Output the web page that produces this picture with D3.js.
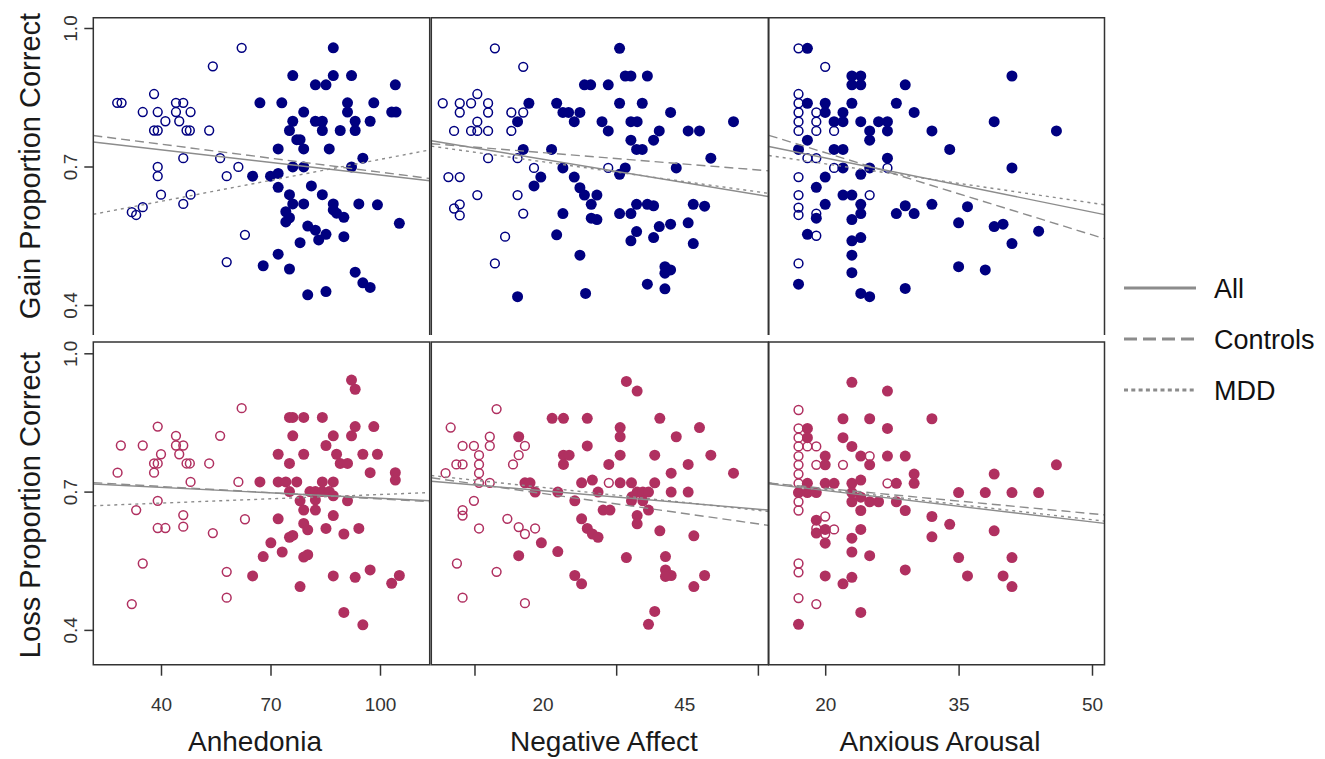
<!DOCTYPE html>
<html>
<head>
<meta charset="utf-8">
<script src="https://cdn.jsdelivr.net/npm/d3@7"></script>
<style>
  body { margin: 0; background: #fff; }
  svg { display: block; }
  text { font-family: "Liberation Sans", Arial, sans-serif; }
</style>
</head>
<body>
<svg id="chart" width="1325" height="759"></svg>
<script>
// ---- Data: [score, proportion correct] per participant ----
const gainAnhCtrl = [[62.1,0.957],[54.2,0.917],[38.1,0.857],[28.0,0.838],[29.2,0.838],[44.1,0.838],[46.1,0.838],[35.0,0.818],[39.1,0.818],[44.1,0.818],[48.1,0.818],[41.2,0.798],[45.0,0.798],[38.1,0.778],[39.1,0.778],[47.0,0.778],[47.9,0.778],[53.2,0.778],[46.1,0.718],[56.2,0.718],[39.1,0.699],[61.2,0.699],[39.1,0.679],[58.0,0.679],[40.0,0.639],[48.1,0.639],[46.1,0.619],[35.0,0.612],[32.0,0.601],[33.2,0.595],[63.0,0.552],[58.0,0.493]];
const gainAnhMdd = [[87.2,0.957],[76.1,0.897],[87.2,0.897],[92.2,0.897],[82.3,0.877],[85.2,0.877],[104.2,0.877],[67.1,0.838],[73.1,0.838],[91.1,0.838],[98.3,0.838],[79.1,0.818],[91.1,0.818],[103.2,0.818],[104.4,0.818],[76.1,0.798],[82.3,0.798],[84.2,0.798],[93.2,0.798],[97.3,0.798],[75.2,0.778],[84.2,0.778],[89.1,0.778],[93.2,0.778],[77.2,0.758],[78.1,0.758],[72.1,0.738],[79.1,0.738],[86.1,0.738],[95.3,0.718],[76.1,0.699],[79.1,0.699],[92.2,0.699],[65.1,0.679],[70.0,0.679],[72.1,0.685],[72.1,0.655],[81.2,0.658],[75.2,0.639],[84.2,0.639],[76.1,0.619],[79.1,0.619],[87.2,0.619],[94.2,0.619],[99.3,0.617],[74.2,0.602],[87.2,0.606],[88.1,0.599],[90.1,0.590],[74.2,0.580],[75.2,0.589],[105.3,0.577],[80.2,0.571],[82.3,0.562],[85.2,0.553],[90.1,0.548],[78.1,0.535],[83.2,0.541],[72.1,0.510],[68.0,0.485],[75.2,0.478],[93.2,0.471],[95.3,0.448],[97.3,0.438],[80.2,0.422],[85.2,0.429]];

const gainNaCtrl = [[11.6,0.956],[16.6,0.916],[8.5,0.857],[2.4,0.837],[5.4,0.837],[7.4,0.837],[10.4,0.837],[5.4,0.817],[10.4,0.817],[14.5,0.817],[16.6,0.817],[8.5,0.797],[4.4,0.777],[7.4,0.777],[8.5,0.777],[10.4,0.777],[14.5,0.777],[10.4,0.718],[15.6,0.718],[18.5,0.697],[31.6,0.697],[3.4,0.677],[5.4,0.677],[8.5,0.638],[15.6,0.638],[5.4,0.618],[4.4,0.609],[5.4,0.594],[16.6,0.598],[13.4,0.548],[11.6,0.490]];
const gainNaMdd = [[33.6,0.956],[34.6,0.896],[35.6,0.896],[38.5,0.896],[27.4,0.877],[28.5,0.877],[31.6,0.877],[17.6,0.837],[22.5,0.837],[33.6,0.837],[37.6,0.837],[23.6,0.817],[24.6,0.817],[26.6,0.817],[42.6,0.817],[15.6,0.797],[25.6,0.797],[30.5,0.797],[35.6,0.797],[36.7,0.797],[53.7,0.797],[31.6,0.777],[40.6,0.777],[45.7,0.777],[47.7,0.777],[35.6,0.757],[39.6,0.757],[16.6,0.737],[21.6,0.737],[36.6,0.737],[37.6,0.737],[49.7,0.718],[23.6,0.697],[34.6,0.697],[43.6,0.697],[19.7,0.677],[25.6,0.677],[33.6,0.683],[18.5,0.658],[26.6,0.654],[27.4,0.638],[29.6,0.638],[28.6,0.618],[36.6,0.618],[38.5,0.618],[39.6,0.615],[46.6,0.618],[48.6,0.614],[23.6,0.598],[33.6,0.598],[35.6,0.598],[28.6,0.588],[29.6,0.585],[42.6,0.575],[45.7,0.578],[40.6,0.570],[36.6,0.559],[22.5,0.552],[35.6,0.539],[39.6,0.546],[46.6,0.533],[26.6,0.508],[41.6,0.483],[42.6,0.476],[41.6,0.469],[38.5,0.445],[41.6,0.435],[15.6,0.418],[27.6,0.425]];

const gainAaCtrl = [[17,0.956],[20,0.916],[17,0.857],[17,0.837],[17,0.817],[17,0.797],[17,0.777],[19,0.817],[19,0.797],[19,0.777],[21,0.777],[18,0.718],[19,0.718],[21,0.697],[27,0.697],[17,0.677],[17,0.638],[25,0.638],[17,0.611],[17,0.595],[19,0.598],[19,0.550],[17,0.490]];
const gainAaMdd = [[18,0.956],[23,0.896],[24,0.896],[23,0.877],[24,0.877],[29,0.877],[41,0.896],[18,0.837],[20,0.837],[23,0.837],[28,0.837],[20,0.817],[22,0.817],[30,0.817],[21,0.797],[22,0.797],[24,0.797],[26,0.797],[27,0.797],[39,0.797],[25,0.777],[27,0.777],[32,0.777],[46,0.777],[18,0.757],[25,0.757],[17,0.737],[21,0.737],[22,0.737],[34,0.737],[27,0.718],[22,0.697],[25,0.697],[41,0.697],[20,0.677],[24,0.683],[19,0.655],[22,0.638],[23,0.638],[20,0.618],[24,0.618],[24,0.598],[28,0.598],[29,0.615],[30,0.598],[32,0.618],[36,0.613],[19,0.588],[23,0.585],[35,0.578],[39,0.570],[40,0.575],[44,0.560],[18,0.553],[23,0.539],[24,0.546],[41,0.533],[23,0.508],[23,0.470],[35,0.483],[38,0.476],[17,0.445],[24,0.425],[25,0.418],[29,0.436]];

const lossAnhCtrl = [[62.1,0.881],[39.1,0.841],[44.1,0.821],[56.2,0.821],[29.0,0.800],[35.0,0.800],[44.1,0.800],[46.1,0.800],[40.0,0.781],[45.0,0.781],[38.1,0.761],[39.1,0.761],[47.0,0.761],[47.9,0.761],[53.2,0.761],[28.1,0.741],[38.1,0.741],[48.1,0.721],[61.2,0.721],[39.1,0.680],[33.2,0.660],[46.1,0.649],[63.0,0.640],[39.1,0.621],[41.2,0.621],[46.1,0.624],[54.2,0.610],[35.0,0.544],[58.0,0.526],[58.0,0.470],[32.0,0.456]];
const lossAnhMdd = [[92.2,0.942],[93.2,0.922],[75.2,0.861],[76.1,0.861],[79.1,0.861],[84.2,0.861],[93.2,0.841],[98.3,0.841],[76.1,0.821],[87.2,0.821],[92.2,0.821],[85.2,0.800],[72.1,0.781],[79.1,0.781],[88.1,0.781],[95.3,0.781],[99.3,0.781],[75.2,0.761],[89.1,0.761],[91.1,0.761],[97.3,0.741],[104.2,0.741],[104.2,0.725],[67.1,0.721],[72.1,0.721],[74.2,0.721],[77.2,0.721],[84.2,0.721],[87.2,0.721],[75.2,0.700],[80.8,0.700],[82.3,0.700],[84.2,0.700],[86.1,0.700],[87.2,0.691],[82.3,0.682],[78.1,0.680],[91.1,0.680],[79.1,0.660],[82.3,0.660],[87.2,0.648],[72.1,0.641],[79.1,0.631],[80.2,0.617],[85.2,0.620],[90.1,0.608],[94.2,0.620],[75.2,0.601],[76.1,0.605],[70.1,0.589],[73.2,0.569],[68.0,0.559],[79.1,0.558],[80.2,0.563],[65.1,0.517],[87.2,0.517],[93.2,0.514],[97.3,0.530],[78.1,0.494],[103.2,0.501],[105.3,0.518],[90.1,0.438],[95.3,0.411]];

const lossNaCtrl = [[11.9,0.879],[3.8,0.839],[10.7,0.819],[5.9,0.799],[7.9,0.799],[10.7,0.799],[16.9,0.799],[8.8,0.779],[15.8,0.779],[4.8,0.759],[5.9,0.759],[8.8,0.759],[14.8,0.759],[2.9,0.740],[8.8,0.740],[8.8,0.719],[10.7,0.719],[31.7,0.719],[7.9,0.680],[5.9,0.660],[5.9,0.648],[13.8,0.641],[8.8,0.620],[15.8,0.623],[16.9,0.608],[18.7,0.620],[4.9,0.544],[11.9,0.526],[5.9,0.470],[16.9,0.458]];
const lossNaMdd = [[34.8,0.939],[36.7,0.918],[21.7,0.859],[23.7,0.859],[27.9,0.859],[40.7,0.859],[47.7,0.839],[33.7,0.839],[33.7,0.819],[15.8,0.819],[43.6,0.819],[27.9,0.799],[23.7,0.779],[24.7,0.779],[33.7,0.779],[39.8,0.779],[49.7,0.779],[23.7,0.759],[31.7,0.759],[45.7,0.759],[42.7,0.740],[53.7,0.740],[16.9,0.719],[17.8,0.719],[26.9,0.719],[28.8,0.725],[33.7,0.719],[35.7,0.719],[39.8,0.719],[18.7,0.699],[22.7,0.699],[29.8,0.699],[36.7,0.699],[37.7,0.699],[38.7,0.699],[42.7,0.699],[45.7,0.699],[35.8,0.689],[25.7,0.680],[35.7,0.680],[37.7,0.680],[30.7,0.660],[31.9,0.660],[38.7,0.660],[36.7,0.648],[36.7,0.630],[26.9,0.641],[27.9,0.620],[28.8,0.608],[29.8,0.601],[40.7,0.615],[46.7,0.604],[19.8,0.589],[22.7,0.570],[15.8,0.561],[34.8,0.557],[41.7,0.559],[41.7,0.530],[42.7,0.518],[41.7,0.516],[48.6,0.518],[46.7,0.494],[25.7,0.518],[26.9,0.500],[39.8,0.440],[38.7,0.412]];

const lossAaCtrl = [[17,0.877],[17,0.837],[17,0.817],[17,0.798],[17,0.777],[17,0.758],[17,0.738],[17,0.718],[17,0.698],[17,0.678],[17,0.659],[18,0.798],[19,0.798],[19,0.758],[22,0.758],[25,0.777],[27,0.718],[20,0.646],[19,0.620],[20,0.608],[21,0.618],[17,0.544],[17,0.525],[17,0.469],[19,0.456]];
const lossAaMdd = [[23,0.937],[27,0.918],[22,0.858],[25,0.858],[32,0.858],[18,0.837],[27,0.837],[18,0.817],[22,0.817],[23,0.798],[20,0.777],[24,0.777],[27,0.777],[29,0.777],[20,0.758],[25,0.758],[46,0.758],[30,0.738],[39,0.738],[18,0.718],[20,0.718],[21,0.718],[23,0.718],[24,0.725],[28,0.718],[30,0.718],[17,0.698],[18,0.698],[19,0.698],[23,0.698],[35,0.698],[38,0.698],[41,0.698],[44,0.698],[23,0.678],[24,0.688],[25,0.678],[26,0.678],[28,0.678],[24,0.659],[29,0.659],[32,0.646],[34,0.629],[19,0.638],[19,0.610],[20,0.618],[24,0.618],[39,0.615],[20,0.588],[23,0.599],[32,0.602],[23,0.569],[25,0.561],[35,0.557],[41,0.557],[29,0.530],[20,0.517],[23,0.514],[36,0.517],[40,0.517],[41,0.494],[22,0.500],[24,0.438],[17,0.412]];

// Regression fits [intercept, slope], panel order:
// gain~anhedonia, gain~NA, gain~AA, loss~anhedonia, loss~NA, loss~AA
const fitAll      = [[0.7727,-0.000912],[0.7566,-0.002033],[0.7968,-0.00391],[0.7251,-0.000397],[0.7230,-0.001054],[0.7478,-0.002273]];
const fitControls = [[0.7887,-0.001009],[0.7498,-0.000986],[0.8486,-0.005932],[0.7292,-0.000451],[0.7307,-0.001736],[0.7436,-0.001831]];
const fitMdd      = [[0.5640, 0.001513],[0.7447,-0.001717],[0.7624,-0.002826],[0.6626, 0.000311],[0.7353,-0.001309],[0.7487,-0.002193]];

// Axis text
const xTitles = ["Anhedonia", "Negative Affect", "Anxious Arousal"];
const yTitles = ["Gain Proportion Correct", "Loss Proportion Correct"];
const yTicks = [0.4, 0.7, 1.0];
const anhTicks = [40, 70, 100];
const naTickMarks = [8, 33, 58];
const naTickLabels = [20, 45];
const aaTicks = [20, 35, 50];
const legendLabels = ["All", "Controls", "MDD"];

// ---- Layout ----
const colX = [[93.3, 429.7], [431.3, 768.3], [768.8, 1104.5]];
const rowY = [[17.7, 335], [342, 664.7]];
const rowColor = ["#000080", "#B03060"];
const lineGrey = "#8c8c8c";
const dashes = [null, "9,5", "3,4"];

const xScales = [
  d3.scaleLinear().domain([40, 100]).range([161, 380]),
  d3.scaleLinear().domain([20, 45]).range([542.5, 684.2]),
  d3.scaleLinear().domain([20, 50]).range([825.2, 1092])
];
const yScales = [
  d3.scaleLinear().domain([0.4, 1]).range([305, 28]),
  d3.scaleLinear().domain([0.4, 1]).range([629.9, 353.3])
];

const panels = [
  [gainAnhCtrl, gainAnhMdd], [gainNaCtrl, gainNaMdd], [gainAaCtrl, gainAaMdd],
  [lossAnhCtrl, lossAnhMdd], [lossNaCtrl, lossNaMdd], [lossAaCtrl, lossAaMdd]
];
const fits = [fitAll, fitControls, fitMdd];

const svg = d3.select("#chart");
const defs = svg.append("defs");

panels.forEach(([ctrl, mdd], i) => {
  const row = Math.floor(i / 3), col = i % 3;
  const x = xScales[col], y = yScales[row];
  const [x0, x1] = colX[col], [y0, y1] = rowY[row];
  const color = rowColor[row];

  defs.append("clipPath").attr("id", "clip" + i)
    .append("rect").attr("x", x0).attr("y", y0).attr("width", x1 - x0).attr("height", y1 - y0);

  const g = svg.append("g").attr("clip-path", `url(#clip${i})`);

  // controls: open circles
  g.selectAll("circle.ctrl").data(ctrl).join("circle")
    .attr("class", "ctrl")
    .attr("cx", d => x(d[0])).attr("cy", d => y(d[1])).attr("r", 4.4)
    .attr("fill", "none").attr("stroke", color).attr("stroke-width", 1.5);

  // MDD: filled circles
  g.selectAll("circle.mdd").data(mdd).join("circle")
    .attr("class", "mdd")
    .attr("cx", d => x(d[0])).attr("cy", d => y(d[1])).attr("r", 5.5)
    .attr("fill", color);

  // regression lines across the whole panel
  const xa = x.invert(x0), xb = x.invert(x1);
  fits.forEach((fit, k) => {
    const [b0, b1] = fit[i];
    g.append("line")
      .attr("x1", x(xa)).attr("y1", y(b0 + b1 * xa))
      .attr("x2", x(xb)).attr("y2", y(b0 + b1 * xb))
      .attr("stroke", lineGrey).attr("stroke-width", 1.4)
      .attr("stroke-dasharray", dashes[k]);
  });

  // panel frame (top row open at the bottom)
  const frame = row === 0
    ? `M${x0},${y1}V${y0}H${x1}V${y1}`
    : `M${x0},${y0}H${x1}V${y1}H${x0}Z`;
  svg.append("path").attr("d", frame).attr("fill", "none")
    .attr("stroke", "#333").attr("stroke-width", 1.5);
});

// ---- Y axes (left column only) ----
yScales.forEach((y, row) => {
  const ax = svg.append("g").attr("transform", `translate(${colX[0][0]},0)`)
    .call(d3.axisLeft(y).tickValues(yTicks).tickSize(9).tickFormat(d3.format(".1f")));
  ax.select(".domain").remove();
  ax.selectAll(".tick line").attr("stroke", "#333").attr("stroke-width", 1.5);
  ax.selectAll(".tick text")
    .attr("x", null).attr("dy", null)
    .attr("transform", "translate(-16.5,0) rotate(-90)")
    .attr("text-anchor", "middle")
    .attr("font-size", 19).attr("font-family", "Liberation Sans, Arial, sans-serif")
    .attr("fill", "#333");

  const mid = row === 0 ? 166 : 505;
  svg.append("text")
    .attr("transform", `translate(40,${mid}) rotate(-90)`)
    .attr("text-anchor", "middle").attr("font-size", 29).attr("fill", "#1a1a1a")
    .text(yTitles[row]);
});

// ---- X axes (bottom row only) ----
const axisY = rowY[1][1];
function styleX(ax) {
  ax.select(".domain").remove();
  ax.selectAll(".tick line").attr("stroke", "#333").attr("stroke-width", 1.5);
  ax.selectAll(".tick text").attr("y", 46).attr("dy", null)
    .attr("font-size", 19).attr("font-family", "Liberation Sans, Arial, sans-serif")
    .attr("fill", "#333");
}
styleX(svg.append("g").attr("transform", `translate(0,${axisY})`)
  .call(d3.axisBottom(xScales[0]).tickValues(anhTicks).tickSize(11)));
styleX(svg.append("g").attr("transform", `translate(0,${axisY})`)
  .call(d3.axisBottom(xScales[1]).tickValues(naTickMarks).tickSize(11).tickFormat("")));
styleX(svg.append("g").attr("transform", `translate(0,${axisY})`)
  .call(d3.axisBottom(xScales[1]).tickValues(naTickLabels).tickSize(0)));
styleX(svg.append("g").attr("transform", `translate(0,${axisY})`)
  .call(d3.axisBottom(xScales[2]).tickValues(aaTicks).tickSize(11)));

const titleX = [255, 604, 940];
xTitles.forEach((t, c) => {
  svg.append("text").attr("x", titleX[c]).attr("y", 751)
    .attr("text-anchor", "middle").attr("font-size", 28).attr("fill", "#1a1a1a")
    .text(t);
});

// ---- Legend ----
const legY = [288, 339, 390];
legendLabels.forEach((lab, k) => {
  svg.append("line").attr("x1", 1124).attr("x2", 1196)
    .attr("y1", legY[k]).attr("y2", legY[k])
    .attr("stroke", lineGrey).attr("stroke-width", 3)
    .attr("stroke-dasharray", k === 0 ? null : (k === 1 ? "13,6" : "4,3.3"));
  svg.append("text").attr("x", 1214).attr("y", legY[k]).attr("dy", "0.36em")
    .attr("font-size", 27).attr("fill", "#111").text(lab);
});
</script>
</body>
</html>
